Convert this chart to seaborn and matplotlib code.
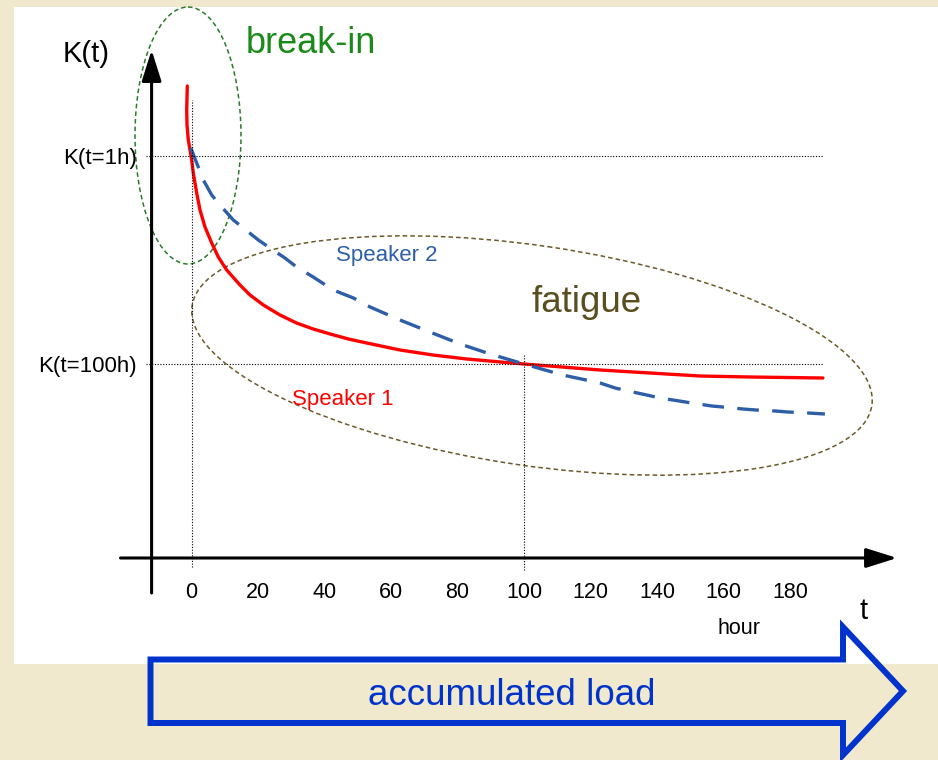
import matplotlib
matplotlib.use("Agg")
import matplotlib.pyplot as plt
from matplotlib.patches import Ellipse, Rectangle, Polygon
import seaborn as sns

# values (t in hours, K in arbitrary units)
red_t = [-1.26, -1.44, -1.35, -0.96, 0.06, 0.54, 1.56, 2.56, 4.06, 6.08, 8.06,
         10.59, 14.59, 17.6, 21.6, 26.6, 31.6, 36.6, 41.7, 47.2, 52.7, 62.7,
         72.6, 82.8, 92.9, 100.0, 122.9, 137.9, 152.9, 168.0, 189.9]
red_k = [4.72, 4.48, 4.33, 4.18, 3.98, 3.85, 3.65, 3.48, 3.31, 3.15, 3.01,
         2.88, 2.73, 2.63, 2.53, 2.43, 2.35, 2.29, 2.24, 2.19, 2.15, 2.08,
         2.03, 1.99, 1.96, 1.94, 1.88, 1.85, 1.82, 1.81, 1.80]
blue_t = [-0.2, 3.55, 6.08, 8.57, 12.57, 15.6, 20.1, 23.6, 28.1, 31.6, 36.6,
          42.6, 48.7, 53.7, 62.7, 71.7, 80.8, 89.8, 100.0, 111.6, 122.9, 127.4,
          131.3, 136.9, 140.9, 146.7, 150.4, 156.5, 159.8, 165.8, 169.8, 175.5,
          179.4, 185.4, 190.5]
blue_k = [4.10, 3.78, 3.63, 3.53, 3.38, 3.30, 3.18, 3.10, 3.00, 2.91, 2.81,
          2.68, 2.60, 2.51, 2.38, 2.26, 2.14, 2.04, 1.94, 1.83, 1.75, 1.70,
          1.67, 1.63, 1.60, 1.57, 1.55, 1.52, 1.51, 1.49, 1.48, 1.47,
          1.46, 1.45, 1.44]
hour_ticks = [0, 20, 40, 60, 80, 100, 120, 140, 160, 180]
k_1h = 4.02
k_100h = 1.94
k_tick_labels = ["K(t=100h)", "K(t=1h)"]

sns.set_style("white")
plt.rcParams["font.family"] = ["Liberation Sans", "DejaVu Sans"]

W, H = 938, 760
BEIGE = "#F1E9CE"
fig = plt.figure(figsize=(W / 100, H / 100), dpi=100, facecolor=BEIGE)

# ---- decoration layer in pixel units ----
deco = fig.add_axes([0, 0, 1, 1], zorder=0)
deco.set_xlim(0, W)
deco.set_ylim(H, 0)
deco.axis("off")
deco.add_patch(Rectangle((14, 7), W - 14, 657, facecolor="white", edgecolor="none"))

deco.add_patch(Ellipse((188, 135.5), 106, 257, fill=False, ec="#2a7a2a",
                       lw=1.1, ls=(0, (3, 2))))
deco.add_patch(Ellipse((532, 355.5), 687, 220, angle=8.33, fill=False,
                       ec="#6b5a2a", lw=1.1, ls=(0, (3, 2))))

deco.add_patch(Polygon([(150.5, 659.5), (843, 659.5), (843, 627), (903, 691),
                        (843, 755), (843, 723), (150.5, 723)], closed=True,
                       fill=False, ec="#0033CC", lw=4.3, joinstyle="miter"))

deco.text(63, 62, "K(t)", fontsize=21, ha="left", va="baseline", color="black")
deco.text(246, 53, "break-in", fontsize=26, ha="left", va="baseline", color="#1a8a1a")
deco.text(864, 619, "t", fontsize=21, ha="center", va="baseline", color="black")
deco.text(739, 634, "hour", fontsize=15.5, ha="center", va="baseline", color="black")
deco.text(336.5, 261.5, "Speaker 2", fontsize=16, ha="left", va="baseline", color="#2e5ea8")
deco.text(291.5, 405, "Speaker 1", fontsize=16, ha="left", va="baseline", color="red")
deco.text(532, 311.5, "fatigue", fontsize=26.5, ha="left", va="baseline", color="#5a4d1e")
deco.text(512, 705, "accumulated load", fontsize=26.5, ha="center", va="baseline",
          color="#0033CC")

# ---- data layer ----
x0, sx = 191.5, 3.325     # pixel of t=0, pixels per hour
y0, sy = 558.0, 100.0     # pixel of K=0, pixels per K unit
ax = fig.add_axes([0, 0, 1, 1], zorder=1)
ax.set_facecolor("none")

sns.lineplot(x=red_t, y=red_k, ax=ax, color="red", lw=2.4, sort=False, estimator=None)
sns.lineplot(x=blue_t, y=blue_k, ax=ax, color="#2e5ea8", lw=2.4, sort=False,
             estimator=None, linestyle=(0, (6.5, 4)))

dots = (0, (1, 1.5))
ax.hlines([k_1h, k_100h], xmin=-13.7, xmax=190, colors="black", lw=0.8, linestyles=dots)
ax.vlines(0, -0.09, 4.58, colors="black", lw=0.8, linestyles=dots)
ax.vlines(100, -0.12, 2.03, colors="black", lw=0.8, linestyles=dots)

arrow = dict(arrowstyle="-|>,head_length=1.9,head_width=0.6", mutation_scale=10,
             lw=2.2, color="black", shrinkA=0, shrinkB=0)
ax.annotate("", xy=(-12, 5.08), xytext=(-12, -0.35), arrowprops=arrow)
ax.annotate("", xy=(212.2, 0), xytext=(-21.35, 0), arrowprops=arrow)

for s in ax.spines.values():
    s.set_color("none")
ax.spines["bottom"].set_position(("data", 0))
ax.spines["left"].set_position(("data", -12))

ax.set_xticks(hour_ticks)
ax.set_xticklabels([str(h) for h in hour_ticks], fontsize=15.5)
ax.set_yticks([k_100h, k_1h])
ax.set_yticklabels(k_tick_labels, fontsize=16)
ax.tick_params(axis="x", length=0, pad=17, labelcolor="black")
ax.tick_params(axis="y", length=0, pad=10.5, labelcolor="black")
ax.set_xlabel("")
ax.set_ylabel("")

ax.set_xlim(-x0 / sx, (W - x0) / sx)
ax.set_ylim((y0 - H) / sy, y0 / sy)

fig.savefig("out.png", dpi=100, facecolor=BEIGE)
